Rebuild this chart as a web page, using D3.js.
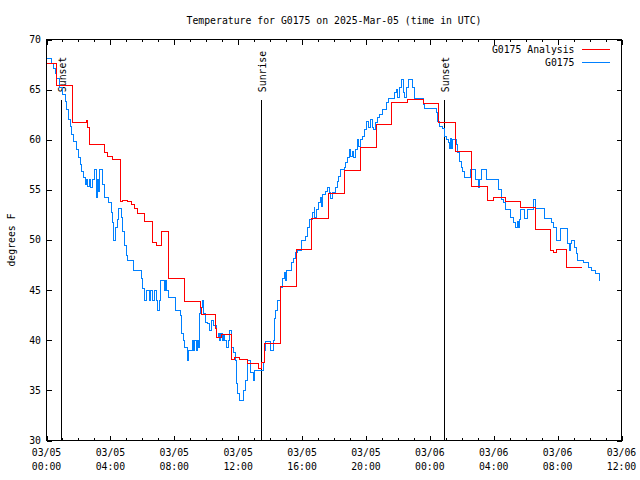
<!DOCTYPE html>
<html>
<head>
<meta charset="utf-8">
<script src="https://cdn.jsdelivr.net/npm/d3@7"></script>
<style>
  html, body { margin: 0; padding: 0; background: #fff; }
  svg { display: block; }
  text { font-family: "DejaVu Sans Mono", "Liberation Mono", monospace; font-size: 9.8px; fill: #000; }
</style>
</head>
<body>
<svg id="chart" width="640" height="480"></svg>
<script>
// ---------------- data ----------------
const titleText = "Temperature for G0175 on 2025-Mar-05 (time in UTC)";
const yLabelText = "degrees F";
const startTime = "2025-03-05T00:00:00Z";
const endTime = "2025-03-06T12:00:00Z";

// hours after 2025-03-05 00:00 UTC
const obsHours = [0.00,0.29,0.44,0.56,0.64,0.81,1.02,1.17,1.27,1.38,1.48,1.58,1.71,1.86,2.02,2.13,2.21,2.33,2.44,2.52,
  2.58,2.69,2.75,2.89,3.00,3.11,3.17,3.25,3.31,3.52,3.63,3.89,4.04,4.14,4.21,4.29,4.42,4.50,4.67,4.73,
  4.88,4.98,5.04,5.46,5.92,6.02,6.13,6.27,6.44,6.54,6.64,6.75,6.86,6.96,7.06,7.13,7.38,7.44,7.52,7.64,
  8.06,8.38,8.48,8.56,8.67,8.83,8.89,9.11,9.19,9.27,9.36,9.44,9.52,9.56,9.61,9.67,9.77,9.86,9.98,10.08,
  10.23,10.36,10.48,10.64,10.77,10.81,10.92,11.02,11.08,11.17,11.27,11.38,11.48,11.56,11.69,11.81,11.89,11.98,12.06,12.33,
  12.48,12.58,12.79,12.94,13.02,13.56,13.63,13.73,14.04,14.21,14.29,14.36,14.46,14.67,14.77,14.88,14.94,15.04,15.36,15.46,
  15.56,15.71,15.98,16.23,16.33,16.48,16.64,16.75,16.81,16.89,17.02,17.13,17.23,17.31,17.48,17.58,17.69,17.79,17.89,18.11,
  18.21,18.31,18.42,18.63,18.73,18.83,18.94,19.04,19.14,19.25,19.36,19.46,19.56,19.67,19.81,19.94,20.04,20.14,20.29,20.39,
  20.50,20.61,20.71,20.86,21.02,21.27,21.44,21.81,21.92,22.00,22.11,22.21,22.33,22.42,22.54,22.64,22.89,23.04,23.58,23.69,
  24.39,24.50,24.63,24.77,24.92,25.02,25.14,25.23,25.29,25.36,25.44,25.64,25.75,25.86,25.96,26.06,26.17,26.56,26.86,27.06,
  27.13,27.21,27.52,28.31,28.46,28.63,28.73,29.08,29.25,29.39,29.46,29.52,29.61,29.69,29.94,30.14,30.50,30.61,31.17,31.64,
  31.75,31.96,32.21,32.64,32.73,32.83,32.89,33.04,33.17,33.27,33.63,33.94,34.11,34.36,34.61,34.66];
const obsTemps = [68.1,67.6,67.1,66.6,66.1,65.2,64.5,63.8,63.0,62.0,61.3,60.5,59.8,59.0,58.2,57.5,56.8,56.2,55.5,56.0,
  55.3,56.0,55.2,56.0,57.0,54.2,56.0,54.8,57.0,55.5,54.2,53.7,52.7,51.7,50.0,51.2,52.0,53.1,52.2,50.8,
  49.5,48.5,48.0,47.0,46.2,45.2,44.0,45.0,44.0,45.0,44.0,45.0,44.0,43.0,44.0,46.0,45.0,46.0,45.0,44.3,
  43.0,42.5,40.7,40.0,39.3,38.0,39.0,40.0,39.0,40.0,39.0,40.0,39.3,41.0,42.7,43.3,44.0,42.7,41.8,41.7,
  41.0,42.0,41.5,40.3,40.7,40.0,40.7,40.0,40.5,40.0,39.3,40.0,41.0,39.3,38.8,38.0,35.7,34.7,34.0,35.0,
  36.0,38.0,36.8,36.0,37.0,37.8,39.0,39.9,39.0,40.0,42.2,43.0,44.0,45.3,46.2,46.8,46.0,47.0,47.8,48.2,
  48.8,49.0,50.0,50.3,51.2,52.0,52.7,53.2,52.2,53.0,53.7,54.2,53.3,54.5,54.8,55.2,54.7,54.1,54.7,55.2,
  55.8,56.3,57.0,57.2,57.7,58.2,59.0,58.3,58.8,58.2,59.0,60.0,59.3,60.0,60.3,61.0,61.8,61.2,62.0,61.2,
  61.0,61.7,62.2,62.5,63.0,63.7,64.1,64.7,65.0,64.2,65.2,66.0,64.7,64.2,65.2,66.0,65.2,64.1,63.5,63.1,
  62.7,61.8,61.3,61.1,60.3,60.0,59.7,59.1,60.1,59.1,60.0,59.5,58.7,57.8,57.2,56.8,56.2,57.0,56.0,55.2,
  56.0,57.0,56.0,55.0,54.0,53.7,53.0,52.2,51.7,51.2,51.8,51.2,52.0,53.0,52.1,53.0,54.0,53.1,52.1,51.7,
  51.2,50.0,51.1,49.7,49.0,49.7,50.0,49.3,48.7,48.0,47.8,47.3,47.0,46.7,46.0,46.0];

const anaHours = [0.00,0.64,1.63,2.48,2.58,2.69,3.63,3.83,4.14,4.63,4.77,5.08,5.33,5.50,5.67,6.13,6.64,6.86,7.17,7.64,
  8.67,9.63,9.71,10.61,10.67,10.98,11.61,11.75,12.09,12.58,13.27,13.48,13.63,14.67,15.64,16.61,17.64,18.67,19.63,20.64,
  21.61,22.58,23.63,24.56,25.61,26.58,27.61,27.96,28.73,29.67,30.64,31.58,31.75,31.96,32.58,33.52];
const anaTemps = [67.6,65.4,61.7,61.9,61.2,59.5,58.7,58.3,58.0,53.8,53.9,53.8,53.5,53.1,52.6,51.8,49.8,49.5,50.8,46.2,
  43.9,43.3,42.6,41.2,40.3,40.6,38.1,38.3,38.1,37.7,37.2,37.8,39.7,45.4,49.1,52.1,54.6,56.9,59.2,61.5,
  63.7,64.0,63.6,61.7,58.8,55.3,53.9,54.2,53.8,53.2,51.0,49.0,48.8,49.1,47.3,47.3];

const seriesNames = ["G0175 Analysis", "G0175"];
const seriesColors = ["#ff0000", "#0080ff"];

const sunLabels = ["Sunset", "Sunrise", "Sunset"];
const sunTimes = ["2025-03-05T00:53:00Z", "2025-03-05T13:24:00Z", "2025-03-06T00:55:00Z"];
const sunLineTop = 64;

const yTicks = [30, 35, 40, 45, 50, 55, 60, 65, 70];
const xMajorHours = [0, 4, 8, 12, 16, 20, 24, 28, 32, 36];
const xMinorHours = d3.range(0, 37, 1);

// ---------------- layout ----------------
const svg = d3.select("#chart");
const L = 46.5, R = 621.5, T = 39.5, B = 440.5;
const t0 = new Date(startTime), t1 = new Date(endTime);
const hourToDate = h => new Date(t0.getTime() + h * 3600000);

const x = d3.scaleUtc().domain([t0, t1]).range([L, R]);
const y = d3.scaleLinear().domain([30, 70]).range([B, T]);

// title
svg.append("text").attr("x", (L + R) / 2).attr("y", 24.3)
  .attr("text-anchor", "middle").text(titleText);

// y label
svg.append("text").attr("transform", `translate(12,${(T + B) / 2}) rotate(-90)`)
  .attr("text-anchor", "middle").attr("dy", "0.35em").text(yLabelText);

// axes using d3 axes (inward ticks)
const fmtD = d3.utcFormat("%m/%d"), fmtH = d3.utcFormat("%H:%M");

const yLeft = d3.axisRight(y).tickValues(yTicks).tickSize(5).tickFormat("");
const yRight = d3.axisLeft(y).tickValues(yTicks).tickSize(5).tickFormat("");
svg.append("g").attr("transform", `translate(${L},0)`).call(yLeft);
svg.append("g").attr("transform", `translate(${R},0)`).call(yRight);

const xBotMinor = d3.axisTop(x).tickValues(xMinorHours.map(hourToDate)).tickSize(2.5).tickFormat("");
const xBotMajor = d3.axisTop(x).tickValues(xMajorHours.map(hourToDate)).tickSize(5).tickFormat("");
const xTopMinor = d3.axisBottom(x).tickValues(xMinorHours.map(hourToDate)).tickSize(2.5).tickFormat("");
const xTopMajor = d3.axisBottom(x).tickValues(xMajorHours.map(hourToDate)).tickSize(5).tickFormat("");
svg.append("g").attr("transform", `translate(0,${B})`).call(xBotMinor);
svg.append("g").attr("transform", `translate(0,${B})`).call(xBotMajor);
svg.append("g").attr("transform", `translate(0,${T})`).call(xTopMinor);
svg.append("g").attr("transform", `translate(0,${T})`).call(xTopMajor);

svg.selectAll(".domain").remove();
svg.selectAll(".tick line").attr("stroke", "#000").attr("shape-rendering", "crispEdges");

// y tick labels
svg.append("g").selectAll("text").data(yTicks).join("text")
  .attr("x", 41).attr("y", d => y(d)).attr("dy", "0.35em")
  .attr("text-anchor", "end").text(d => d);

// x tick labels (two lines)
const xl = svg.append("g").selectAll("text").data(xMajorHours.map(hourToDate)).join("text")
  .attr("text-anchor", "middle");
xl.append("tspan").attr("x", d => x(d)).attr("y", 455.6).text(d => fmtD(d));
xl.append("tspan").attr("x", d => x(d)).attr("y", 469.6).text(d => fmtH(d));

// frame
svg.append("rect").attr("x", L).attr("y", T).attr("width", R - L).attr("height", B - T)
  .attr("fill", "none").attr("stroke", "#000").attr("shape-rendering", "crispEdges");

// sun lines
const sunData = sunTimes.map((s, i) => ({ t: new Date(s), label: sunLabels[i] }));
svg.append("g").selectAll("line").data(sunData).join("line")
  .attr("x1", d => Math.round(x(d.t)) + 0.5).attr("x2", d => Math.round(x(d.t)) + 0.5)
  .attr("y1", y(sunLineTop)).attr("y2", B)
  .attr("stroke", "#000").attr("shape-rendering", "crispEdges");
svg.append("g").selectAll("text").data(sunData).join("text")
  .attr("transform", d => `translate(${Math.round(x(d.t)) + 1.5},${y(sunLineTop) - 7.5}) rotate(-90)`)
  .attr("dy", "0.35em").attr("text-anchor", "start").text(d => d.label);

// series
const ana = anaHours.map((h, i) => ({ t: hourToDate(h), v: anaTemps[i] }));
const obs = obsHours.map((h, i) => ({ t: hourToDate(h), v: obsTemps[i] }));
const line = d3.line().x(d => x(d.t)).y(d => y(d.v)).curve(d3.curveStepAfter);

svg.append("path").datum(obs).attr("d", line).attr("fill", "none")
  .attr("stroke", seriesColors[1]).attr("stroke-width", 1).attr("shape-rendering", "crispEdges");
svg.append("path").datum(ana).attr("d", line).attr("fill", "none")
  .attr("stroke", seriesColors[0]).attr("stroke-width", 1).attr("shape-rendering", "crispEdges");

// legend
const legY = [50, 63];
seriesNames.forEach((n, i) => {
  svg.append("text").attr("x", 574.5).attr("y", legY[i]).attr("dy", "0.35em")
    .attr("text-anchor", "end").text(n);
  svg.append("line").attr("x1", 582).attr("x2", 610)
    .attr("y1", legY[i] - 0.5).attr("y2", legY[i] - 0.5)
    .attr("stroke", seriesColors[i]).attr("shape-rendering", "crispEdges");
});
</script>
</body>
</html>
